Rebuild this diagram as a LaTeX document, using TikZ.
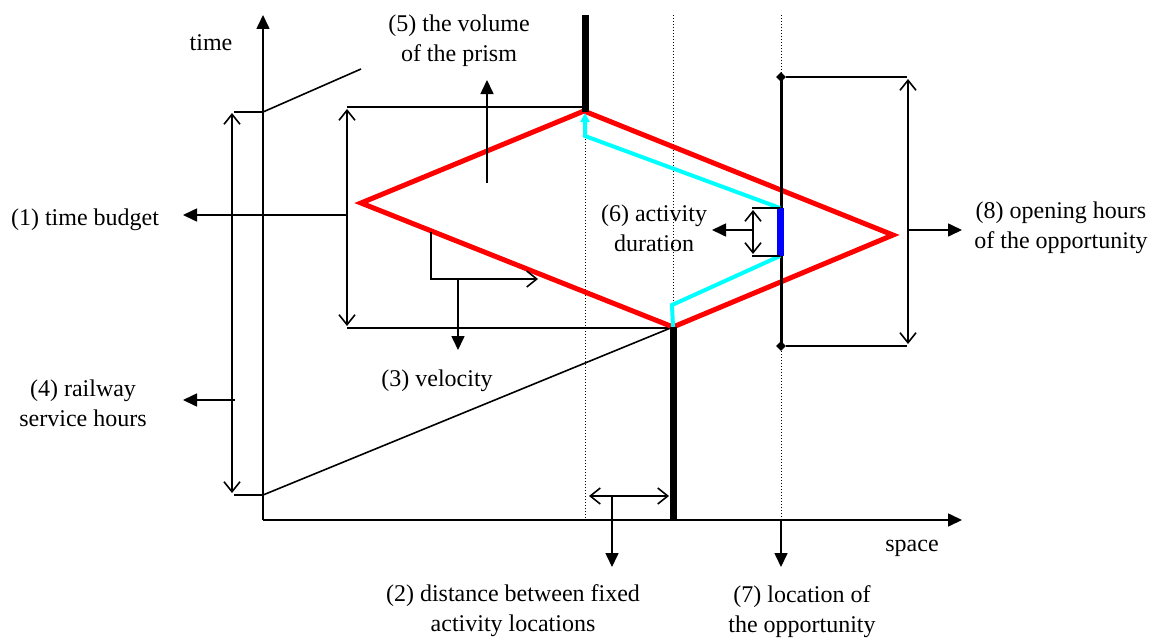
\documentclass[tikz,border=0pt]{standalone}
\usepackage{fontspec}
\setmainfont{Liberation Serif}
\usetikzlibrary{arrows.meta,shapes.geometric}
\definecolor{pcyan}{RGB}{0,255,255}
\definecolor{pblue}{RGB}{0,0,255}
\definecolor{pred}{RGB}{255,0,0}
\tikzset{
  thin line/.style={line width=1.6pt, black},
  lab/.style={thin line, -{Triangle[length=14pt,width=13pt]}},
  dbl/.style={thin line, {Straight Barb[length=10pt,width=16pt]}-{Straight Barb[length=10pt,width=16pt]}},
  onehead/.style={thin line, -{Straight Barb[length=10pt,width=16pt]}},
  dotline/.style={line width=1pt, dotted},
  bar/.style={line width=7pt, black},
  prism/.style={line width=5pt, pred, line join=miter},
  cyanpath/.style={line width=4pt, pcyan},
  txt/.style={font=\fontsize{24}{30}\selectfont, align=center, inner sep=0pt},
  endmark/.style={diamond, fill=black, inner sep=0pt, minimum size=10pt}
}
\begin{document}
\begin{tikzpicture}[x=1pt,y=-1pt]
\useasboundingbox (0,0) rectangle (1155,642);
% coordinates
\coordinate (O) at (263,520);
\coordinate (Ttop) at (263,15);
\coordinate (Send) at (962,520);
\coordinate (A) at (584,111);   % top vertex
\coordinate (B) at (893,235);   % right vertex
\coordinate (C) at (673,327);   % bottom vertex
\coordinate (D) at (361,203);   % left vertex
\coordinate (Ah) at (584,107);
\coordinate (Ch) at (673,328);
% dotted lines
\draw[dotline] (585,112) -- (585,520);
\draw[dotline] (673,15) -- (673,327);
\draw[dotline] (781,15) -- (781,520);
% axes
\draw[lab] (O) -- (Ttop);
\draw[lab] (O) -- (Send);
% railway service lines
\draw[thin line] (234,112) -- (263,112) -- (361,69);
\draw[thin line] (234,495) -- (263,495) -- (C);
\draw[dbl] (232,113) -- (232,493);
% time budget extents
\draw[thin line] (347,107) -- (Ah);
\draw[thin line] (347,328) -- (Ch);
\draw[dbl] (347,109) -- (347,326);
% prism
\draw[prism] (A) -- (B) -- (C) -- (D) -- cycle;
% opportunity
\draw[line width=3pt] (781,77) -- (781,346);
\node[endmark] (m1) at (781,77) {};
\node[endmark] (m2) at (781,346) {};
\draw[thin line] (m1) -- (907,77);
\draw[thin line] (m2) -- (907,346);
\draw[dbl] (908,79) -- (908,344);
% cyan path
\draw[cyanpath, line join=miter] (C) -- (672,305) -- (780,256);
\draw[cyanpath, -{Triangle[length=9pt,width=9pt]}] (780,208) -- (585,136) -- (585,113);
\draw[line width=7pt, pblue] (780,208) -- (780,256);
% fixed activity bars
\draw[bar] (585,15) -- (585,112);
\draw[bar] (673,327) -- (673,520);
% activity duration bracket
\draw[thin line] (752,208) -- (780,208);
\draw[thin line] (752,256) -- (780,256);
\draw[dbl] (753,210) -- (753,254);
% velocity
\draw[onehead] (431,232) -- (431,279) -- (538,279);
\draw[lab] (458,279) -- (458,350);
% distance
\draw[dbl] (589,496) -- (669,496);
\draw[lab] (612,496) -- (612,567);
\draw[lab] (781,520) -- (781,567);
% texts
\node[txt] (time) at (211,43) {time};
\node[txt] (space) at (912,548) {space};
\node[txt] (t1) at (85,220) {(1) time budget};
\node[txt] (t2) at (513,611) {(2) distance between fixed\\activity locations};
\node[txt] (t3) at (437,381) {(3) velocity};
\node[txt] (t4) at (83,403) {(4) railway\\service hours};
\node[txt] (t5) at (459,41) {(5) the volume\\of the prism};
\node[txt] (t6) at (654,228) {(6) activity\\duration};
\node[txt] (t7) at (802,612) {(7) location of\\the opportunity};
\node[txt] (t8) at (1061,228) {(8) opening hours\\of the opportunity};
% label arrows
\draw[lab] (347,215) -- (183,215);
\draw[lab] (235,400) -- (183,400);
\draw[lab] (487,183) -- (487,80);
\draw[lab] (753,230) -- (712,230);
\draw[lab] (908,230) -- (962,230);
\end{tikzpicture}
\end{document}
